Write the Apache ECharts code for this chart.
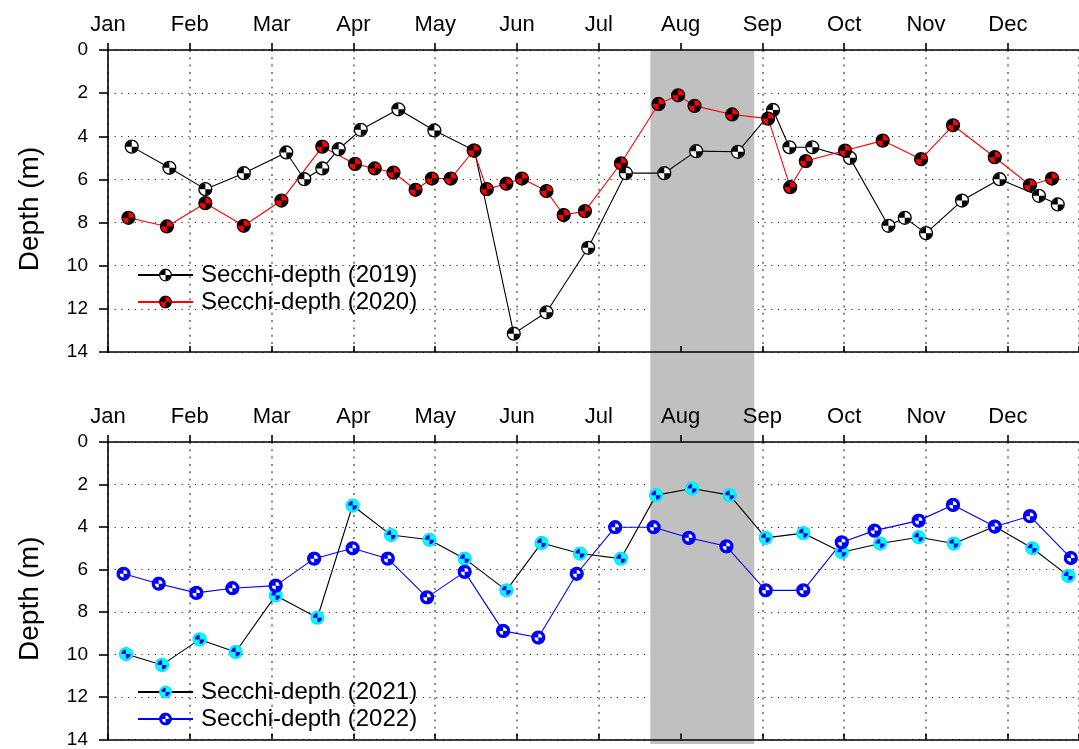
<!DOCTYPE html>
<html>
<head>
<meta charset="utf-8">
<script src="https://cdn.jsdelivr.net/npm/echarts@6/dist/echarts.min.js"></script>
<style>html,body{margin:0;padding:0;background:#fff}#c{width:1079px;height:749px}</style>
</head>
<body>
<div id="c"></div>
<script>
// ---------- data (x = fractional month from Jan 1, y = Secchi depth in m) ----------
const months = ['Jan','Feb','Mar','Apr','May','Jun','Jul','Aug','Sep','Oct','Nov','Dec'];
const shadeRange = [6.63, 7.90];

const x2019 = [0.29,0.75,1.19,1.66,2.18,2.40,2.62,2.82,3.09,3.55,3.99,4.48,4.96,5.36,5.87,6.33,6.80,7.19,7.70,8.13,8.33,8.61,9.07,9.54,9.74,10.00,10.44,10.90,11.38,11.61];
const y2019 = [4.48,5.46,6.45,5.71,4.75,5.99,5.49,4.60,3.70,2.75,3.73,4.66,13.15,12.16,9.17,5.71,5.71,4.69,4.72,2.78,4.51,4.51,5.00,8.15,7.78,8.49,6.98,5.99,6.76,7.16];

const x2020 = [0.25,0.72,1.19,1.66,2.12,2.62,3.02,3.26,3.49,3.76,3.96,4.19,4.47,4.63,4.87,5.06,5.36,5.57,5.83,6.27,6.73,6.97,7.17,7.63,8.07,8.34,8.53,9.01,9.47,9.94,10.33,10.84,11.27,11.54];
const y2020 = [7.78,8.18,7.10,8.15,6.98,4.48,5.28,5.49,5.68,6.48,5.96,5.96,4.66,6.45,6.20,5.96,6.54,7.65,7.47,5.25,2.50,2.10,2.59,2.99,3.18,6.36,5.15,4.66,4.20,5.06,3.49,4.97,6.27,5.96];

const x2021 = [0.22,0.66,1.12,1.56,2.05,2.56,2.99,3.46,3.93,4.36,4.87,5.30,5.77,6.27,6.70,7.14,7.60,8.04,8.50,8.97,9.44,9.91,10.34,10.84,11.30,11.74];
const y2021 = [9.98,10.49,9.29,9.88,7.22,8.27,2.99,4.38,4.60,5.49,6.98,4.75,5.25,5.49,2.50,2.19,2.50,4.51,4.29,5.19,4.78,4.48,4.78,3.98,5.00,6.30];

const x2022 = [0.19,0.62,1.08,1.52,2.05,2.52,2.99,3.42,3.90,4.36,4.83,5.26,5.73,6.20,6.67,7.10,7.56,8.04,8.50,8.97,9.37,9.91,10.33,10.84,11.27,11.77];
const y2022 = [6.20,6.67,7.10,6.88,6.76,5.49,5.00,5.49,7.31,6.11,8.89,9.20,6.20,4.01,4.01,4.51,4.91,6.98,6.98,4.72,4.17,3.70,2.96,3.98,3.49,5.46];

const names = ['Secchi-depth (2019)','Secchi-depth (2020)','Secchi-depth (2021)','Secchi-depth (2022)'];

// ---------- helpers ----------
function pairs(xs, ys){ return xs.map((x,i)=>[x, ys[i]]); }
function disk(fill, wedge, stroke, wr, whichTLBR){
  const r = wr;
  const tl = `M10,10 L10,${10-r} A${r},${r} 0 0 0 ${10-r},10 Z`;
  const br = `M10,10 L10,${10+r} A${r},${r} 0 0 0 ${10+r},10 Z`;
  const tr = `M10,10 L${10+r},10 A${r},${r} 0 0 0 10,${10-r} Z`;
  const bl = `M10,10 L${10-r},10 A${r},${r} 0 0 0 10,${10+r} Z`;
  const p = whichTLBR ? tl + ' ' + br : tr + ' ' + bl;
  const svg = `<svg xmlns="http://www.w3.org/2000/svg" width="20" height="20" viewBox="0 0 20 20">` +
    `<circle cx="10" cy="10" r="8.6" fill="${fill}" stroke="${stroke}" stroke-width="1.8"/>` +
    `<path d="${p}" fill="${wedge}"/></svg>`;
  return 'image://data:image/svg+xml;charset=utf-8,' + encodeURIComponent(svg);
}
const sym2019 = disk('#ffffff', '#000000', '#000000', 8.0, true);
const sym2020 = disk('#ff0000', '#000000', '#000000', 8.0, true);
const sym2021 = disk('#00ffff', '#0000ee', '#00e5ff', 6.2, true);
const sym2022 = disk('#0000ff', '#ffffff', '#0000ff', 5.0, false);

const FONT = '"Liberation Sans", Arial, sans-serif';
const X_MAX = 11.87;
const L = 108, W = 971, H = 302, T1 = 50, T2 = 442;

function monthLabel(v){
  const r = Math.round(v);
  return (Math.abs(v - r) < 1e-6 && r >= 0 && r < 12) ? months[r] : '';
}
const vSplit = {show:true, lineStyle:{color:'#8a8a8a', width:2, type:[2,5.3]}};
const hSplit = {show:true, lineStyle:{color:'#000', width:1, type:[1,5.7]}};

function topAxis(grid){
  return {type:'value', gridIndex:grid, position:'top', min:0, max:X_MAX, interval:1,
    axisLine:{show:true, onZero:false, lineStyle:{color:'#000', width:1.6}},
    axisTick:{show:true, inside:false, length:7, lineStyle:{color:'#000', width:1.6}},
    axisLabel:{formatter:monthLabel, fontSize:22, color:'#000', fontFamily:FONT, margin:14, showMaxLabel:false, hideOverlap:false},
    splitLine:vSplit, z:1};
}
function bottomAxis(grid){
  return {type:'value', gridIndex:grid, position:'bottom', min:0, max:X_MAX, interval:1,
    axisLine:{show:true, onZero:false, lineStyle:{color:'#000', width:1.6}},
    axisTick:{show:true, inside:true, length:6, lineStyle:{color:'#000', width:1.6}},
    axisLabel:{show:false}, splitLine:{show:false}, z:1};
}
function yAxis(grid){
  return {type:'value', gridIndex:grid, inverse:true, min:0, max:14, interval:2,
    name:'Depth (m)', nameLocation:'middle', nameGap:64, nameRotate:90,
    nameTextStyle:{fontSize:28, color:'#000', fontFamily:FONT, padding:[0,16,0,0]},
    axisLine:{show:true, onZero:false, lineStyle:{color:'#000', width:1.6}},
    axisTick:{show:true, inside:false, length:9, lineStyle:{color:'#000', width:1.6}},
    axisLabel:{fontSize:19, color:'#000', fontFamily:FONT, margin:20},
    splitLine:hSplit, z:1};
}
function lineSeries(name, xi, yi, data, sym, color, symSize){
  return {type:'line', name:name, xAxisIndex:xi, yAxisIndex:yi, data:data,
    symbol:sym, symbolSize:symSize, showAllSymbol:true,
    lineStyle:{color:color, width:1.1}, itemStyle:{color:color}, z:3,
    emphasis:{disabled:true}};
}
const legendText = {fontSize:24, color:'#000', fontFamily:FONT, lineHeight:26, padding:[0,0,0,3]};

const option = {
  animation:false,
  backgroundColor:'#fff',
  grid:[
    {left:L, top:T1, width:W, height:H},
    {left:L, top:T2, width:W, height:H},
    {left:L, top:T1, width:W, height:T2 + H - T1}
  ],
  xAxis:[
    topAxis(0), bottomAxis(0), topAxis(1), bottomAxis(1),
    {type:'value', gridIndex:2, min:0, max:X_MAX, show:false}
  ],
  yAxis:[
    yAxis(0), yAxis(1),
    {type:'value', gridIndex:2, min:0, max:1, show:false}
  ],
  legend:[
    {data:[names[0], names[1]], left:132, top:257, orient:'vertical', itemWidth:55, itemHeight:17, itemGap:1,
      textStyle:legendText, selectedMode:false, backgroundColor:'transparent'},
    {data:[names[2], names[3]], left:132, top:674, orient:'vertical', itemWidth:55, itemHeight:17, itemGap:1,
      textStyle:legendText, selectedMode:false, backgroundColor:'transparent'}
  ],
  series:[
    {type:'line', xAxisIndex:4, yAxisIndex:2, data:[], z:-1, silent:true,
      markArea:{silent:true, itemStyle:{color:'#c0c0c0', opacity:1}, label:{show:false},
        data:[[{xAxis:shadeRange[0], yAxis:0}, {xAxis:shadeRange[1], yAxis:1}]]}},
    lineSeries(names[0], 0, 0, pairs(x2019, y2019), sym2019, '#000000', 15),
    lineSeries(names[1], 0, 0, pairs(x2020, y2020), sym2020, '#ff0000', 15),
    lineSeries(names[2], 2, 1, pairs(x2021, y2021), sym2021, '#000000', 15),
    lineSeries(names[3], 2, 1, pairs(x2022, y2022), sym2022, '#0000ff', 15)
  ]
};
const chart = echarts.init(document.getElementById('c'), null, {renderer:'canvas'});
chart.setOption(option);
</script>
</body>
</html>
